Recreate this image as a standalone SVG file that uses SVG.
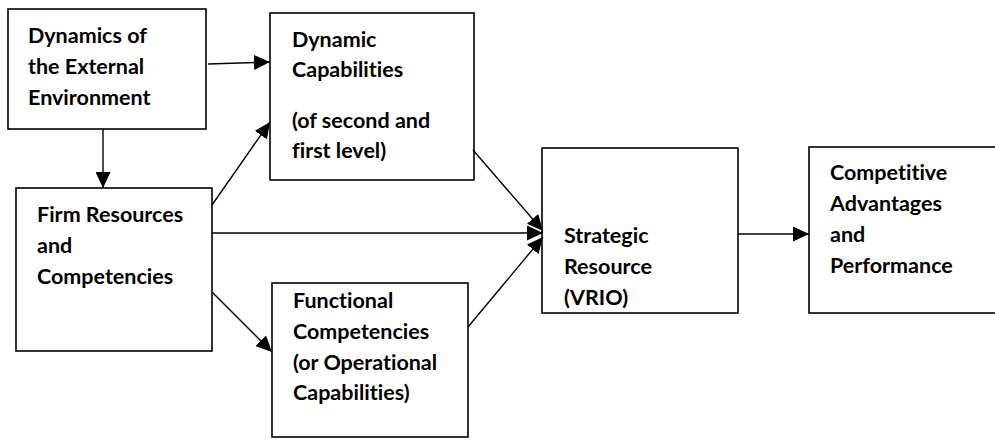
<svg xmlns="http://www.w3.org/2000/svg" width="995" height="444" viewBox="0 0 995 444">
<defs>
<marker id="ah" markerUnits="userSpaceOnUse" markerWidth="17" markerHeight="15" refX="16" refY="7.5" orient="auto">
<path d="M0,0 L16,7.5 L0,15 Z" fill="#000"/>
</marker>
<style>
.box{fill:#fff;stroke:#000;stroke-width:1.6}
.t{font-family:Lato,"Open Sans","Liberation Sans",sans-serif;font-weight:bold;font-size:21.5px;fill:#000;font-variant-ligatures:none;font-feature-settings:"liga" 0}
.c{stroke:#000;stroke-width:1.4;fill:none;marker-end:url(#ah)}
</style>
</defs>
<rect width="995" height="444" fill="#fff"/>
<g id="n1"><rect class="box" x="8" y="9" width="198" height="120"/>
<text class="t" x="28" y="43">Dynamics of</text><text class="t" x="28" y="74">the External</text><text class="t" x="28" y="105">Environment</text></g>
<g id="n2"><rect class="box" x="270" y="13" width="204" height="167"/>
<text class="t" x="292" y="47">Dynamic</text><text class="t" x="292" y="77">Capabilities</text><text class="t" x="292" y="128">(of second and</text><text class="t" x="292" y="158">first level)</text></g>
<g id="n3"><rect class="box" x="16" y="188" width="196" height="163"/>
<text class="t" x="37" y="222">Firm Resources</text><text class="t" x="37" y="253">and</text><text class="t" x="37" y="284">Competencies</text></g>
<g id="n4"><rect class="box" x="272" y="283" width="196" height="154"/>
<text class="t" x="293" y="308">Functional</text><text class="t" x="293" y="339">Competencies</text><text class="t" x="293" y="370">(or Operational</text><text class="t" x="293" y="400">Capabilities)</text></g>
<g id="n5"><rect class="box" x="542" y="148" width="196" height="165"/>
<text class="t" x="564" y="243">Strategic</text><text class="t" x="564" y="274">Resource</text><text class="t" x="564" y="305">(VRIO)</text></g>
<g id="n6"><rect class="box" x="809" y="147" width="200" height="166"/>
<text class="t" x="830" y="180">Competitive</text><text class="t" x="830" y="211">Advantages</text><text class="t" x="830" y="242">and</text><text class="t" x="830" y="273">Performance</text></g>
<g id="connectors">
<line class="c" x1="208" y1="64" x2="270" y2="62"/>
<line class="c" x1="103" y1="129" x2="103" y2="188"/>
<line class="c" x1="212" y1="205" x2="270" y2="122"/>
<line class="c" x1="212" y1="233" x2="543" y2="233"/>
<line class="c" x1="212" y1="292" x2="272" y2="352"/>
<line class="c" x1="473" y1="150" x2="543" y2="231"/>
<line class="c" x1="468" y1="327" x2="543" y2="237"/>
<line class="c" x1="738" y1="234" x2="809" y2="234"/>
</g>
</svg>
